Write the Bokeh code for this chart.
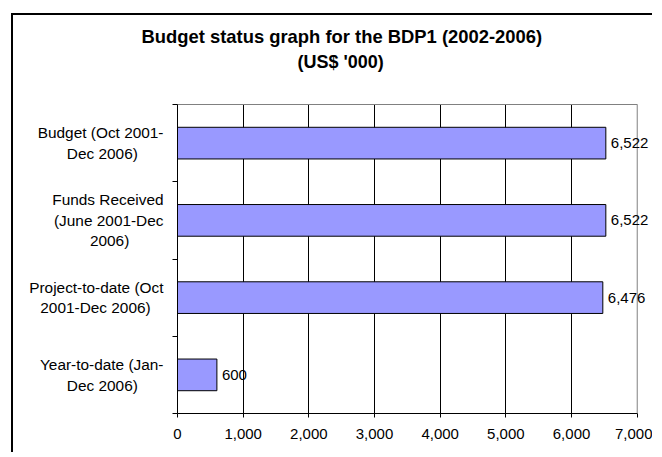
from bokeh.plotting import figure
from bokeh.models import (Range1d, FixedTicker, NumeralTickFormatter, ColumnDataSource,
                          LabelSet, Title, LinearAxis, Span)
from bokeh.core.properties import value
from bokeh.embed import file_html
from bokeh.resources import INLINE

# ---- data ----
categories = [
    "Budget (Oct 2001-\nDec 2006)",
    "Funds Received\n(June 2001-Dec\n2006)",
    "Project-to-date (Oct\n2001-Dec 2006)",
    "Year-to-date (Jan-\nDec 2006)",
]
values = [6522, 6522, 6476, 600]
value_labels = ["6,522", "6,522", "6,476", "600"]
x_ticks = [0, 1000, 2000, 3000, 4000, 5000, 6000, 7000]
title_lines = ["Budget status graph for the BDP1 (2002-2006)", "(US$ '000)"]

# ---- layout helpers ----
FONT = "Liberation Sans"
X_MAX = x_ticks[-1]
NBSP = "\u00a0"

# approximate Arial/Liberation Sans advance widths (em) used to centre wrapped lines
_W = {" ": .278, "(": .333, ")": .333, "-": .333, "0": .556, "1": .556, "2": .556, "6": .556,
      "B": .667, "D": .722, "F": .611, "J": .5, "O": .778, "P": .667, "R": .722, "Y": .667,
      "a": .556, "c": .5, "d": .556, "e": .556, "g": .556, "i": .222, "j": .222, "n": .556,
      "o": .556, "r": .333, "s": .5, "t": .278, "u": .556, "v": .5}

def _width(s):
    return sum(_W.get(ch, .556) for ch in s)

def centre_lines(label):
    lines = label.split("\n")
    w = max(_width(l) for l in lines)
    out = []
    for l in lines:
        pad = int(round((w - _width(l)) / 2 / _W[" "]))
        out.append(l + NBSP * pad)
    return "\n".join(out)

n = len(categories)
pos = [i + 0.5 for i in range(n)]
bounds = list(range(n + 1))

p = figure(width=641, height=439, output_backend="svg", toolbar_location=None,
           x_range=Range1d(0, 7263), y_range=Range1d(n, 0),
           min_border_left=164, min_border_right=0, min_border_top=89, min_border_bottom=41)
p.margin = (13, 0, 0, 11)
p.styles = {"border-top": "2px solid black", "border-left": "2px solid black"}
p.background_fill_color = "white"
p.border_fill_color = "white"
p.outline_line_color = None

src = ColumnDataSource(dict(y=pos, v=values, lab=value_labels))
p.hbar(y="y", right="v", left=0, height=0.41, source=src,
       fill_color="#9999FF", line_color="black", line_width=1)

# grid
p.xgrid.ticker = FixedTicker(ticks=x_ticks[1:-1])
p.xgrid.grid_line_color = "black"
p.xgrid.grid_line_width = 1
p.ygrid.grid_line_color = None

# right border of plot area (gray)
p.add_layout(Span(location=X_MAX, dimension="height", line_color="#808080", line_width=1))

# x axis
p.xaxis.bounds = (0, X_MAX)
p.xaxis.ticker = FixedTicker(ticks=x_ticks)
p.xaxis.formatter = NumeralTickFormatter(format="0,0")
p.xaxis.major_label_text_font = FONT
p.xaxis.major_label_text_font_size = "15px"
p.xaxis.major_label_text_color = "black"
p.xaxis.major_tick_in = 0
p.xaxis.major_tick_out = 4
p.xaxis.minor_tick_line_color = None
p.xaxis.axis_line_color = "black"
p.xaxis.major_tick_line_color = "black"
p.xaxis.major_label_standoff = 11

# top border of plot area (gray)
top = LinearAxis(bounds=(0, X_MAX), ticker=FixedTicker(ticks=[]), axis_line_color="#808080",
                 major_tick_line_color=None, minor_tick_line_color=None,
                 major_tick_in=0, major_tick_out=0,
                 major_label_text_font_size="0px")
p.add_layout(top, "above")

# y axis: category labels at centres, boundary ticks as minor ticks
p.yaxis.ticker = FixedTicker(ticks=pos, minor_ticks=bounds)
p.yaxis.major_label_overrides = {pp: centre_lines(c) for pp, c in zip(pos, categories)}
p.yaxis.major_label_text_font = FONT
p.yaxis.major_label_text_font_size = "15.4px"
p.yaxis.major_label_text_color = "black"
p.yaxis.major_label_standoff = 9
p.yaxis.major_tick_line_color = None
p.yaxis.major_tick_in = 0
p.yaxis.major_tick_out = 0
p.yaxis.minor_tick_in = 0
p.yaxis.minor_tick_out = 5
p.yaxis.minor_tick_line_color = "black"
p.yaxis.axis_line_color = "black"

# value labels
p.add_layout(LabelSet(x="v", y="y", text="lab", source=src, x_offset=5,
                      text_font=value(FONT), text_font_size="15px", text_color="black",
                      text_baseline="middle", text_align="left"))

# spacer between plot area and title, then the two title lines (nearest first)
p.add_layout(Title(text=" ", text_font_size="1px", standoff=28), "above")
p.add_layout(Title(text=title_lines[1], align="left", offset=120, text_font=FONT,
                   text_font_size="18px", text_font_style="bold", text_color="black",
                   standoff=4), "above")
p.add_layout(Title(text=title_lines[0], align="left", offset=-36, text_font=FONT,
                   text_font_size="18.4px", text_font_style="bold", text_color="black",
                   standoff=2), "above")

open("out.html", "w").write(file_html(p, INLINE))
